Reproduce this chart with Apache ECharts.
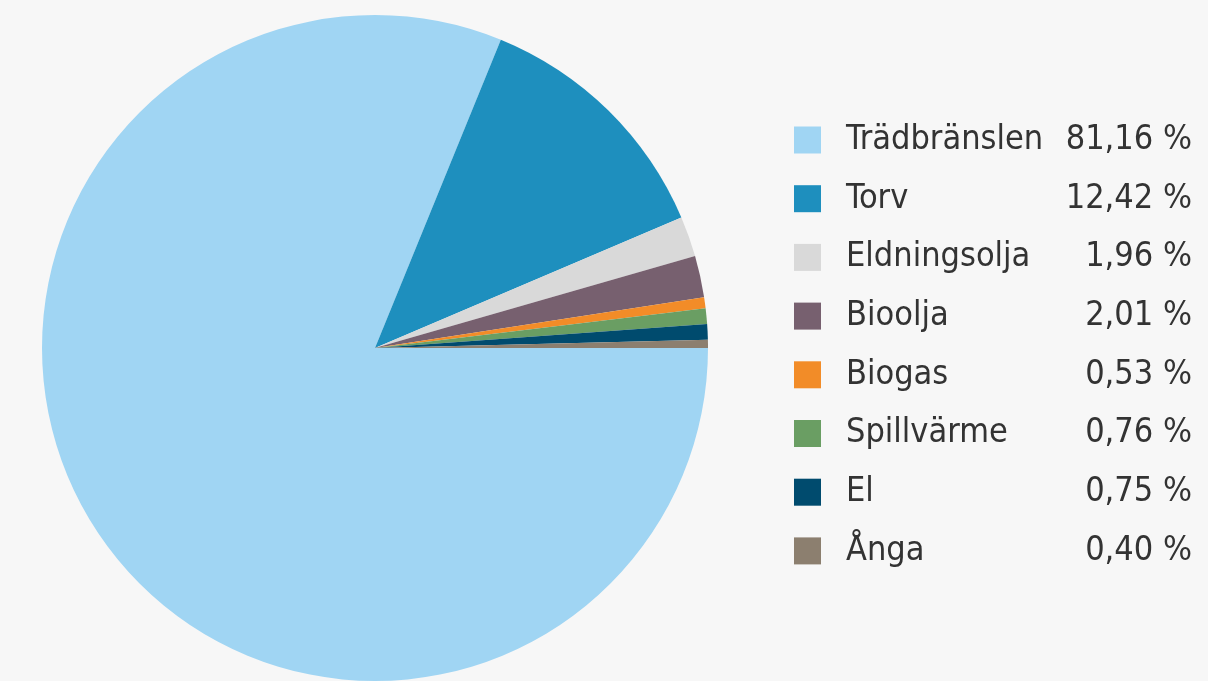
<!DOCTYPE html>
<html><head><meta charset="utf-8">
<script src="https://cdn.jsdelivr.net/npm/echarts@6/dist/echarts.min.js"></script>
<style>html,body{margin:0;padding:0;background:#f7f7f7;}#c{width:1208px;height:681px;}</style>
</head><body><div id="c"></div>
<script>
const categories = ['Trädbränslen','Torv','Eldningsolja','Bioolja','Biogas','Spillvärme','El','Ånga'];
const values = [81.16, 12.42, 1.96, 2.01, 0.53, 0.76, 0.75, 0.40];
const valueLabels = ['81,16 %','12,42 %','1,96 %','2,01 %','0,53 %','0,76 %','0,75 %','0,40 %'];
const colors = ['#a0d5f3','#1e8fbe','#d9d9d9','#77606f','#f28c28','#6a9e63','#004b6e','#8c7f6f'];

const chart = echarts.init(document.getElementById('c'), null, {renderer:'canvas'});
const fontFam = "'DejaVu Sans Condensed',sans-serif";
const fs = 34;
chart.setOption({
  backgroundColor:'#f7f7f7',
  animation:false,
  color: colors,
  legend:{
    orient:'vertical', left:789, top:118,
    itemWidth:27, itemHeight:27, itemGap:24.7,
    icon:'rect',
    formatter: function(name){
      const i = categories.indexOf(name);
      return '{n|'+name+'}{v|'+valueLabels[i]+'}';
    },
    textStyle:{
      color:'#333333', fontFamily:fontFam, fontSize:fs,
      rich:{
        n:{width:225, padding:[0,0,0,20], fontSize:fs, fontFamily:fontFam, color:'#333333'},
        v:{width:121, align:'right', fontSize:fs, fontFamily:fontFam, color:'#333333'}
      }
    },
    selectedMode:false
  },
  series:[{
    type:'pie',
    center:[375,348],
    radius:[0,333],
    startAngle:0,
    clockwise:true,
    label:{show:false},
    labelLine:{show:false},
    emphasis:{disabled:true},
    itemStyle:{borderWidth:0},
    data: categories.map((c,i)=>({name:c, value:values[i]}))
  }]
});
</script></body></html>
